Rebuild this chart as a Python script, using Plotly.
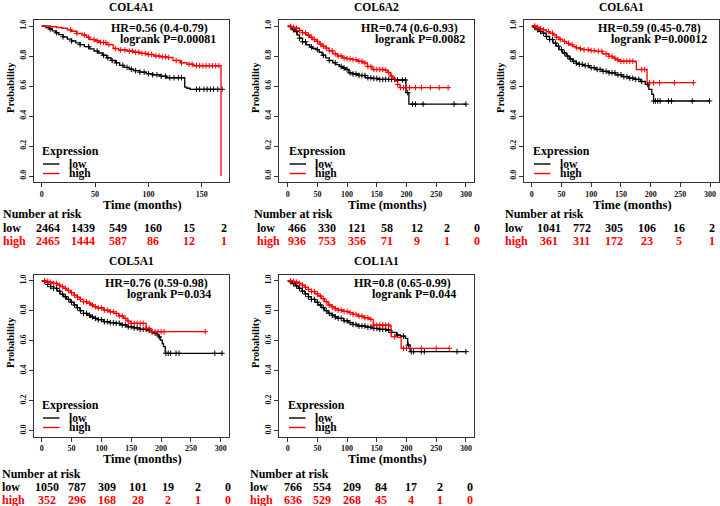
import numpy as np
import plotly.graph_objects as go

W, H = 720, 506
FONT = "Liberation Serif"
RED = "#FF0000"
BLK = "#000000"
AX = "#333333"

genes = ["COL4A1", "COL6A2", "COL6A1", "COL5A1", "COL1A1"]
hr_text = ["HR=0.56 (0.4-0.79)", "HR=0.74 (0.6-0.93)", "HR=0.59 (0.45-0.78)",
           "HR=0.76 (0.59-0.98)", "HR=0.8 (0.65-0.99)"]
p_text = ["logrank P=0.00081", "logrank P=0.0082", "logrank P=0.00012",
          "logrank P=0.034", "logrank P=0.044"]

# ---------------- survival step data (months, probability) ----------------
col4a1_high_t = [0, 8, 14, 19, 24, 28, 33, 38, 42, 45, 50, 55, 61, 67, 72, 80, 86, 92, 98, 105, 111, 117, 123, 130, 136, 142, 168]
col4a1_high_s = [1.0, 0.995, 0.99, 0.985, 0.975, 0.965, 0.95, 0.94, 0.925, 0.91, 0.9, 0.89, 0.876, 0.85, 0.84, 0.833, 0.825, 0.817, 0.81, 0.8, 0.795, 0.79, 0.77, 0.755, 0.745, 0.735, 0.0]
col4a1_low_t = [0, 4, 7, 10, 13, 16, 20, 24, 28, 32, 36, 40, 45, 49, 53, 57, 61, 65, 69, 73, 77, 82, 86, 92, 98, 104, 111, 117, 134, 136, 139, 169]
col4a1_low_s = [1.0, 0.99, 0.98, 0.968, 0.955, 0.943, 0.928, 0.913, 0.9, 0.888, 0.876, 0.862, 0.847, 0.833, 0.82, 0.805, 0.788, 0.77, 0.755, 0.738, 0.724, 0.712, 0.702, 0.692, 0.682, 0.675, 0.665, 0.655, 0.593, 0.585, 0.578, 0.578]

col6a2_high_t = [0, 5, 10, 14, 20, 25, 31, 37, 42, 48, 53, 58, 64, 70, 76, 84, 92, 100, 109, 117, 126, 134, 142, 164, 168, 173, 177, 181, 185, 189, 273]
col6a2_high_s = [1.0, 0.995, 0.99, 0.985, 0.97, 0.955, 0.94, 0.925, 0.91, 0.897, 0.88, 0.865, 0.853, 0.835, 0.815, 0.8, 0.787, 0.782, 0.776, 0.765, 0.754, 0.73, 0.71, 0.705, 0.69, 0.666, 0.65, 0.633, 0.61, 0.589, 0.589]
col6a2_low_t = [0, 3, 6, 9, 12, 16, 20, 25, 31, 37, 42, 48, 53, 58, 64, 70, 76, 81, 87, 92, 98, 103, 110, 120, 131, 142, 153, 181, 199, 204, 300]
col6a2_low_s = [1.0, 0.996, 0.985, 0.975, 0.963, 0.94, 0.919, 0.895, 0.875, 0.86, 0.85, 0.842, 0.825, 0.805, 0.787, 0.77, 0.755, 0.743, 0.73, 0.72, 0.71, 0.688, 0.68, 0.67, 0.655, 0.65, 0.644, 0.64, 0.556, 0.479, 0.479]

col6a1_high_t = [0, 8, 13, 19, 25, 30, 36, 41, 46, 52, 58, 63, 69, 75, 80, 86, 97, 108, 119, 130, 136, 141, 147, 174, 176, 194, 272]
col6a1_high_s = [1.0, 0.99, 0.983, 0.974, 0.963, 0.952, 0.94, 0.925, 0.91, 0.897, 0.885, 0.875, 0.864, 0.855, 0.848, 0.842, 0.836, 0.831, 0.815, 0.798, 0.785, 0.775, 0.765, 0.76, 0.71, 0.622, 0.622]
col6a1_low_t = [0, 3, 6, 10, 14, 19, 24, 30, 36, 41, 46, 52, 58, 63, 69, 75, 80, 86, 97, 108, 119, 130, 141, 152, 163, 174, 183, 191, 197, 202, 205, 299]
col6a1_low_s = [1.0, 0.993, 0.985, 0.975, 0.963, 0.952, 0.93, 0.91, 0.886, 0.865, 0.842, 0.82, 0.8, 0.78, 0.765, 0.752, 0.744, 0.736, 0.722, 0.71, 0.698, 0.688, 0.675, 0.662, 0.652, 0.644, 0.63, 0.611, 0.578, 0.545, 0.5, 0.5]

col5a1_high_t = [0, 6, 12, 20, 26, 31, 37, 42, 48, 54, 59, 64, 70, 76, 82, 87, 93, 104, 113, 121, 129, 137, 143, 149, 175, 182, 274]
col5a1_high_s = [1.0, 0.995, 0.99, 0.982, 0.97, 0.96, 0.949, 0.935, 0.92, 0.904, 0.89, 0.875, 0.86, 0.85, 0.838, 0.827, 0.818, 0.804, 0.793, 0.782, 0.765, 0.749, 0.73, 0.716, 0.682, 0.66, 0.66]
col5a1_low_t = [0, 3, 6, 10, 15, 20, 26, 31, 37, 42, 48, 54, 59, 64, 70, 76, 82, 87, 93, 104, 113, 121, 132, 143, 154, 165, 176, 182, 188, 193, 196, 199, 202, 204, 207, 302]
col5a1_low_s = [1.0, 0.996, 0.99, 0.975, 0.96, 0.949, 0.93, 0.91, 0.893, 0.875, 0.857, 0.838, 0.82, 0.8, 0.782, 0.77, 0.758, 0.749, 0.74, 0.727, 0.72, 0.716, 0.705, 0.693, 0.685, 0.676, 0.668, 0.66, 0.65, 0.638, 0.625, 0.604, 0.58, 0.56, 0.516, 0.516]

col1a1_high_t = [0, 6, 12, 18, 24, 29, 35, 40, 46, 51, 57, 62, 68, 74, 80, 85, 94, 102, 110, 118, 128, 138, 144, 172, 174, 185, 191, 272]
col1a1_high_s = [1.0, 0.995, 0.99, 0.982, 0.97, 0.956, 0.942, 0.928, 0.912, 0.898, 0.88, 0.86, 0.838, 0.825, 0.813, 0.804, 0.795, 0.787, 0.776, 0.764, 0.753, 0.742, 0.704, 0.698, 0.627, 0.622, 0.549, 0.549]
col1a1_low_t = [0, 4, 8, 13, 18, 24, 29, 35, 40, 46, 51, 57, 62, 68, 74, 80, 85, 94, 102, 110, 118, 131, 144, 155, 166, 175, 183, 190, 198, 202, 206, 300]
col1a1_low_s = [1.0, 0.993, 0.98, 0.965, 0.949, 0.93, 0.912, 0.893, 0.875, 0.857, 0.838, 0.82, 0.8, 0.782, 0.77, 0.758, 0.749, 0.733, 0.72, 0.708, 0.698, 0.69, 0.682, 0.676, 0.671, 0.655, 0.638, 0.63, 0.616, 0.571, 0.527, 0.527]

# ---------------- censoring times ----------------
col4a1_high_c = [27, 33, 40, 44, 49, 52, 55, 58, 60, 63, 69, 74, 78, 82, 85, 88, 91, 94, 97, 100, 103, 107, 110, 113, 116, 119, 126, 131, 138, 141, 145, 148, 151, 154, 157, 160, 163, 166]
col4a1_low_c = [8, 14, 20, 28, 36, 44, 52, 58, 62, 66, 70, 76, 80, 84, 88, 92, 96, 100, 104, 108, 112, 116, 120, 124, 128, 131, 145, 148, 152, 155, 158, 161, 165, 169]
col6a2_high_c = [5, 10, 15, 20, 25, 30, 35, 40, 45, 50, 55, 60, 65, 70, 75, 80, 85, 90, 95, 100, 105, 110, 115, 120, 125, 130, 135, 140, 145, 150, 155, 160, 165, 170, 175, 185, 190, 195, 200, 205, 215, 225, 240, 255, 270]
col6a2_low_c = [5, 10, 15, 20, 25, 30, 40, 50, 60, 70, 80, 90, 95, 100, 105, 110, 115, 120, 125, 130, 135, 140, 145, 150, 155, 160, 165, 170, 175, 180, 185, 193, 198, 202, 210, 215, 228, 280, 300]
col6a1_high_c = [5, 10, 15, 20, 28, 35, 42, 48, 55, 62, 68, 75, 82, 88, 95, 100, 105, 112, 118, 125, 130, 135, 140, 145, 150, 155, 160, 165, 170, 185, 190, 198, 205, 215, 240, 272]
col6a1_low_c = [5, 10, 15, 20, 25, 30, 35, 40, 45, 50, 55, 60, 65, 70, 75, 80, 85, 90, 95, 100, 105, 110, 115, 120, 125, 130, 135, 140, 145, 150, 155, 160, 165, 170, 175, 180, 185, 195, 205, 208, 212, 216, 230, 235, 270, 299]
col5a1_high_c = [5, 10, 15, 20, 25, 30, 35, 40, 45, 50, 55, 60, 65, 70, 75, 80, 85, 90, 95, 100, 105, 110, 115, 120, 125, 130, 135, 140, 145, 150, 155, 160, 165, 170, 175, 180, 185, 190, 195, 200, 205, 274]
col5a1_low_c = [5, 10, 15, 20, 25, 30, 35, 40, 45, 50, 55, 60, 65, 70, 75, 80, 85, 90, 95, 100, 105, 110, 115, 120, 125, 130, 135, 140, 145, 150, 155, 160, 165, 170, 175, 180, 185, 190, 197, 208, 212, 216, 225, 230, 290, 302]
col1a1_high_c = [5, 10, 15, 20, 25, 30, 35, 40, 45, 50, 55, 60, 65, 70, 75, 80, 85, 90, 95, 100, 105, 110, 115, 120, 125, 130, 135, 140, 145, 150, 155, 160, 165, 170, 180, 195, 200, 225, 250, 272]
col1a1_low_c = [5, 10, 15, 20, 25, 30, 35, 40, 45, 50, 55, 60, 65, 70, 75, 80, 85, 90, 95, 100, 105, 110, 115, 120, 125, 130, 135, 140, 145, 150, 155, 160, 165, 170, 175, 185, 195, 203, 208, 212, 225, 230, 285, 300]

# ---------------- number at risk ----------------
col4a1_risk_low = [2464, 1439, 549, 160, 15, 2]
col4a1_risk_high = [2465, 1444, 587, 86, 12, 1]
col6a2_risk_low = [466, 330, 121, 58, 12, 2, 0]
col6a2_risk_high = [936, 753, 356, 71, 9, 1, 0]
col6a1_risk_low = [1041, 772, 305, 106, 16, 2]
col6a1_risk_high = [361, 311, 172, 23, 5, 1]
col5a1_risk_low = [1050, 787, 309, 101, 19, 2, 0]
col5a1_risk_high = [352, 296, 168, 28, 2, 1, 0]
col1a1_risk_low = [766, 554, 209, 84, 17, 2, 0]
col1a1_risk_high = [636, 529, 268, 45, 4, 1, 0]

x_ticks_short = [0, 50, 100, 150]
x_ticks_long = [0, 50, 100, 150, 200, 250, 300]
y_ticks = [0.0, 0.2, 0.4, 0.6, 0.8, 1.0]
y_ticktext = ["0.0", "0.2", "0.4", "0.6", "0.8", "1.0"]

curves = [
    (col4a1_low_t, col4a1_low_s, col4a1_low_c, col4a1_high_t, col4a1_high_s, col4a1_high_c),
    (col6a2_low_t, col6a2_low_s, col6a2_low_c, col6a2_high_t, col6a2_high_s, col6a2_high_c),
    (col6a1_low_t, col6a1_low_s, col6a1_low_c, col6a1_high_t, col6a1_high_s, col6a1_high_c),
    (col5a1_low_t, col5a1_low_s, col5a1_low_c, col5a1_high_t, col5a1_high_s, col5a1_high_c),
    (col1a1_low_t, col1a1_low_s, col1a1_low_c, col1a1_high_t, col1a1_high_s, col1a1_high_c),
]
risks = [
    (col4a1_risk_low, col4a1_risk_high),
    (col6a2_risk_low, col6a2_risk_high),
    (col6a1_risk_low, col6a1_risk_high),
    (col5a1_risk_low, col5a1_risk_high),
    (col1a1_risk_low, col1a1_risk_high),
]

# ---------------- layout geometry (pixels) ----------------
panels = [
    dict(box=(34, 229, 20, 182), xr=(-7.2, 175.5), xt=x_ticks_short, title=(131.5, 7),
         prob=(10, 88), time=(142, 205), hr=(210, 28), pv=(217.7, 38.5), leg=(40, 151),
         nar=(1, 213.5), rlow=228.3, rhigh=240.7, cols=(47.5, 224)),
    dict(box=(279.3, 474, 20, 182), xr=(-14.1, 313.6), xt=x_ticks_long, title=(376.6, 7),
         prob=(255, 88), time=(387, 205), hr=(460, 28), pv=(467, 38.5), leg=(286.5, 151),
         nar=(252, 213.5), rlow=228.3, rhigh=240.7, cols=(297, 477)),
    dict(box=(524, 719, 20, 182), xr=(-13, 315), xt=x_ticks_long, title=(621.5, 7),
         prob=(500, 88), time=(632, 205), hr=(703, 28), pv=(709, 38.5), leg=(531, 151),
         nar=(503, 213.5), rlow=228.3, rhigh=240.7, cols=(549, 711.5)),
    dict(box=(34, 229, 274.7, 436.7), xr=(-12.9, 313.8), xt=x_ticks_long, title=(131.5, 261),
         prob=(10, 343), time=(142, 459), hr=(210, 283.3), pv=(213, 293.5), leg=(40, 405),
         nar=(0, 474), rlow=487, rhigh=499.5, cols=(47, 228)),
    dict(box=(279.3, 474, 274.7, 436.7), xr=(-14.1, 313.6), xt=x_ticks_long, title=(376.6, 261),
         prob=(255, 343), time=(387, 459), hr=(453, 283.3), pv=(458, 293.5), leg=(286, 405),
         nar=(248.3, 474), rlow=487, rhigh=499.5, cols=(292.5, 469.5)),
]


def xp(px):
    return px / W


def yp(py):
    return 1 - py / H


def step_value(times, surv, c):
    idx = np.searchsorted(np.asarray(times, dtype=float), np.asarray(c, dtype=float), side="right") - 1
    return np.asarray(surv)[np.clip(idx, 0, len(surv) - 1)]


fig = go.Figure()
annotations = []
shapes = []
layout_axes = {}


def ann(text, x, y, size, color=BLK, xanchor="center", angle=0):
    annotations.append(dict(text=text, x=xp(x), y=yp(y), xref="paper", yref="paper",
                            xanchor=xanchor, yanchor="middle", showarrow=False, textangle=angle,
                            font=dict(family=FONT, size=size, color=color, weight="bold")))


for i, p in enumerate(panels):
    k = "" if i == 0 else str(i + 1)
    xref, yref = "x" + k, "y" + k
    lt, ls, lc, ht, hs, hc = curves[i]
    for (t, s, c, col) in [(lt, ls, lc, BLK), (ht, hs, hc, RED)]:
        fig.add_trace(go.Scatter(x=t, y=s, mode="lines", line=dict(color=col, width=1.3, shape="hv"),
                                 xaxis=xref, yaxis=yref, showlegend=False, hoverinfo="skip"))
        fig.add_trace(go.Scatter(x=c, y=step_value(t, s, c), mode="markers",
                                 marker=dict(symbol="cross-thin", size=4, line=dict(color=col, width=1)),
                                 xaxis=xref, yaxis=yref, showlegend=False, hoverinfo="skip"))

    l, r, top, bot = p["box"]
    tickfont = dict(family=FONT, size=8, color="#111111", weight="bold")
    layout_axes["xaxis" + k] = dict(domain=[xp(l), xp(r)], range=list(p["xr"]), anchor=yref,
                                    tickvals=p["xt"], ticks="outside", ticklen=4, tickwidth=1,
                                    tickcolor=AX, showline=True, linecolor=AX, linewidth=1,
                                    mirror=True, showgrid=False, zeroline=False, tickfont=tickfont)
    layout_axes["yaxis" + k] = dict(domain=[yp(bot), yp(top)], range=[-0.04, 1.04], anchor=xref,
                                    tickvals=y_ticks, ticktext=y_ticktext, tickangle=-90,
                                    ticks="outside", ticklen=4, tickwidth=1, tickcolor=AX,
                                    showline=True, linecolor=AX, linewidth=1, mirror=True,
                                    showgrid=False, zeroline=False, tickfont=tickfont)

    ann(genes[i], p["title"][0], p["title"][1], 11.5)
    ann("Probability", p["prob"][0], p["prob"][1], 10.5, angle=-90)
    ann("Time (months)", p["time"][0], p["time"][1], 12.5)
    ann(hr_text[i], p["hr"][0], p["hr"][1], 12, xanchor="right")
    ann(p_text[i], p["pv"][0], p["pv"][1], 12, xanchor="right")

    # legend
    lx, ly = p["leg"]
    ann("Expression", lx, ly, 12, xanchor="left")
    for j, (lab, col) in enumerate([("low", BLK), ("high", RED)]):
        yy = ly + 13 + j * 9.5
        shapes.append(dict(type="line", xref="paper", yref="paper", x0=xp(lx + 3), x1=xp(lx + 19.5),
                           y0=yp(yy), y1=yp(yy), line=dict(color=col, width=1.4)))
        ann(lab, lx + 26.5, yy - 0.5, 11.5, xanchor="left")

    # number at risk table
    ann("Number at risk", p["nar"][0], p["nar"][1], 12, xanchor="left")
    ann("low", p["nar"][0] + (3 if i == 1 else 0), p["rlow"], 12, xanchor="left")
    ann("high", p["nar"][0] + (3 if i == 1 else 0), p["rhigh"], 12, color=RED, xanchor="left")
    rl, rh = risks[i]
    xs = np.linspace(p["cols"][0], p["cols"][1], len(rl))
    for xv, a, b in zip(xs, rl, rh):
        ann(str(a), xv, p["rlow"], 12)
        ann(str(b), xv, p["rhigh"], 12, color=RED)

fig.update_layout(width=W, height=H, margin=dict(l=0, r=0, t=0, b=0),
                  paper_bgcolor="white", plot_bgcolor="white", showlegend=False,
                  annotations=annotations, shapes=shapes, **layout_axes)

fig.write_html("out.html", config={"displayModeBar": False},
               post_script="document.body.style.margin='0px';")
